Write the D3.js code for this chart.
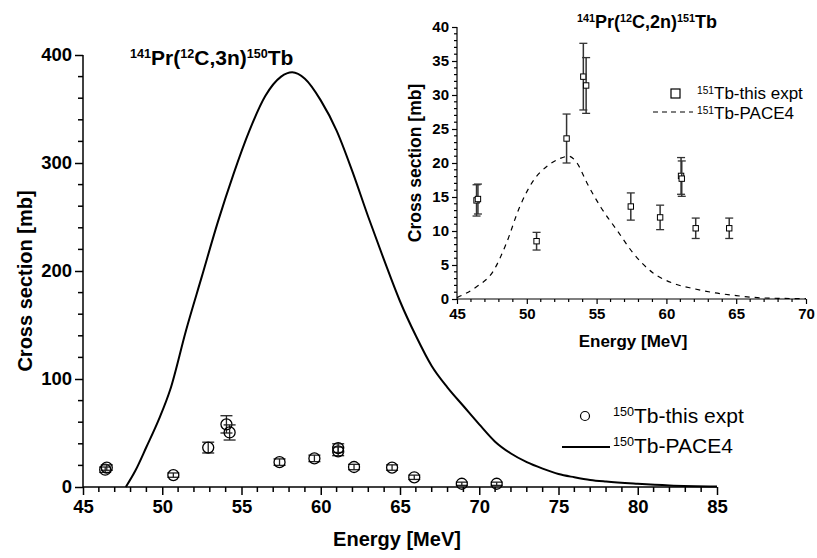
<!DOCTYPE html>
<html><head><meta charset="utf-8">
<script src="https://cdn.jsdelivr.net/npm/d3@7"></script>
<style>body{margin:0;background:#fff}svg{display:block}text{font-family:"Liberation Sans",Arial,sans-serif;fill:#000}</style>
</head><body><svg id="c" width="817" height="558"></svg>
<script>
// ---- Main chart data: 141Pr(12C,3n)150Tb ----
const mainExpE   = [46.4, 46.5, 50.7, 52.9, 54.05, 54.25, 57.4, 59.6, 61.1, 61.1, 62.1, 64.5, 65.9, 68.9, 71.1];
const mainExpV   = [16, 18, 11, 36.5, 58, 50.5, 23, 26.5, 33, 36, 18.5, 18, 9, 3, 3];
const mainExpErr = [2.5, 2.5, 2, 5, 8, 7, 3, 3, 4, 4, 2.5, 2.5, 2, 1.5, 1.5];
const mainPaceE  = [47.7, 48.3, 49.0, 49.8, 50.5, 51.5, 52.5, 53.5, 54.5, 55.5, 56.5, 57.5, 58.2, 59, 60, 61, 62, 63, 64, 65, 66, 67, 68, 69, 70, 71, 72, 73, 74, 75, 76, 77, 78, 80, 82, 85];
const mainPaceV  = [0, 15, 37, 63, 90, 145, 195, 245, 290, 330, 362, 380, 384, 378, 358, 330, 292, 250, 210, 172, 140, 112, 92, 75, 58, 42, 31, 23, 17, 12, 9, 6.5, 5, 3, 1.5, 0.5];
const mainXTicks = [45, 50, 55, 60, 65, 70, 75, 80, 85];
const mainYTicks = [0, 100, 200, 300, 400];

// ---- Inset data: 141Pr(12C,2n)151Tb ----
const insExpE   = [46.4, 46.5, 50.7, 52.85, 54.05, 54.25, 57.45, 59.55, 61.05, 61.1, 62.1, 64.5];
const insExpV   = [14.5, 14.7, 8.5, 23.6, 32.7, 31.4, 13.6, 12.0, 18.1, 17.7, 10.4, 10.4];
const insExpErr = [2.3, 2.2, 1.3, 3.6, 4.9, 4.1, 2.0, 1.8, 2.7, 2.6, 1.5, 1.5];
const insPaceE  = [45, 46.4, 47.6, 48.5, 49.5, 50.5, 51.5, 52.3, 53, 53.6, 54.3, 55.3, 56.5, 57.6, 59, 60.5, 62, 63.5, 65, 66.5, 68, 70];
const insPaceV  = [0.2, 1.8, 4.1, 8, 13.6, 17.5, 19.6, 20.6, 21, 20, 17.1, 13.5, 10.0, 6.8, 3.9, 2.3, 1.5, 0.9, 0.5, 0.2, 0.1, 0.05];
const insXTicks = [45, 50, 55, 60, 65, 70];
const insYTicks = [0, 5, 10, 15, 20, 25, 30, 35, 40];

const svg = d3.select("#c");

function richText(g, x, y, parts, size, weight, anchor) {
  const t = g.append("text").attr("x", x).attr("y", y)
    .attr("font-size", size).attr("font-weight", weight).attr("text-anchor", anchor || "start");
  parts.forEach(p => {
    const s = t.append("tspan").text(p[0]);
    if (p[1]) s.attr("font-size", size * 0.6).attr("baseline-shift", "super");
  });
  return t;
}

function drawAxes(g, x, y, xTicks, yTicks, xMinor, yMinor, opt) {
  const [x0, x1] = x.range(), [y0, y1] = y.range();
  g.append("g").selectAll("line").data(xMinor).join("line")
    .attr("x1", d => x(d)).attr("x2", d => x(d)).attr("y1", y0).attr("y2", y0 + opt.minor)
    .attr("stroke", "#000").attr("stroke-width", opt.sw);
  g.append("g").selectAll("line").data(yMinor).join("line")
    .attr("y1", d => y(d)).attr("y2", d => y(d)).attr("x1", x0).attr("x2", x0 - opt.minor)
    .attr("stroke", "#000").attr("stroke-width", opt.sw);
  const xa = d3.axisBottom(x).tickValues(xTicks).tickSize(opt.major).tickPadding(opt.padX).tickFormat(d3.format("d"));
  const ya = d3.axisLeft(y).tickValues(yTicks).tickSize(opt.major).tickPadding(opt.padY).tickFormat(d3.format("d"));
  const gx = g.append("g").attr("transform", `translate(0,${y0})`).call(xa);
  const gy = g.append("g").attr("transform", `translate(${x0},0)`).call(ya);
  [gx, gy].forEach(a => {
    a.select(".domain").remove();
    a.selectAll(".tick line").attr("stroke", "#000").attr("stroke-width", opt.sw);
    a.selectAll(".tick text").attr("font-size", opt.fs).attr("font-weight", "bold")
      .attr("font-family", "Liberation Sans, Arial, sans-serif").attr("fill", "#000");
  });
  g.append("line").attr("x1", x0).attr("x2", x1).attr("y1", y0).attr("y2", y0).attr("stroke", "#000").attr("stroke-width", opt.sw);
  g.append("line").attr("x1", x0).attr("x2", x0).attr("y1", y0).attr("y2", y1).attr("stroke", "#000").attr("stroke-width", opt.sw);
}

// ================= MAIN =================
const gm = svg.append("g");
const xM = d3.scaleLinear().domain([45, 85]).range([83, 717]);
const yM = d3.scaleLinear().domain([0, 400]).range([487, 55]);
drawAxes(gm, xM, yM, mainXTicks, mainYTicks,
  d3.range(45, 85.01, 1).filter(v => v % 5 !== 0),
  d3.range(0, 400.1, 20).filter(v => v % 100 !== 0),
  {major: 8, minor: 5, sw: 1.5, fs: 18.5, padX: 5, padY: 3});

const mainPace = mainPaceE.map((e, i) => [e, mainPaceV[i]]);
gm.append("path").datum(mainPace)
  .attr("d", d3.line().x(d => xM(d[0])).y(d => yM(d[1])).curve(d3.curveMonotoneX))
  .attr("fill", "none").attr("stroke", "#000").attr("stroke-width", 2);

const mainExp = mainExpE.map((e, i) => ({e, v: mainExpV[i], err: mainExpErr[i]}));
const me = gm.append("g").selectAll("g").data(mainExp).join("g");
me.append("line").attr("x1", d => xM(d.e)).attr("x2", d => xM(d.e))
  .attr("y1", d => yM(d.v - d.err)).attr("y2", d => yM(d.v + d.err)).attr("stroke", "#222").attr("stroke-width", 1.3);
me.append("line").attr("x1", d => xM(d.e) - 6).attr("x2", d => xM(d.e) + 6)
  .attr("y1", d => yM(d.v - d.err)).attr("y2", d => yM(d.v - d.err)).attr("stroke", "#222").attr("stroke-width", 1.3);
me.append("line").attr("x1", d => xM(d.e) - 6).attr("x2", d => xM(d.e) + 6)
  .attr("y1", d => yM(d.v + d.err)).attr("y2", d => yM(d.v + d.err)).attr("stroke", "#222").attr("stroke-width", 1.3);
me.append("circle").attr("cx", d => xM(d.e)).attr("cy", d => yM(d.v)).attr("r", 5.5)
  .attr("fill", "none").attr("stroke", "#000").attr("stroke-width", 1.3);

richText(gm, 130, 65, [["141", 1], ["Pr(", 0], ["12", 1], ["C,3n)", 0], ["150", 1], ["Tb", 0]], 21, "bold");
gm.append("text").attr("transform", "translate(32,281) rotate(-90)").attr("text-anchor", "middle")
  .attr("font-size", 20).attr("font-weight", "bold").text("Cross section [mb]");
gm.append("text").attr("x", 397).attr("y", 546).attr("text-anchor", "middle")
  .attr("font-size", 20).attr("font-weight", "bold").text("Energy [MeV]");

gm.append("circle").attr("cx", 585).attr("cy", 416).attr("r", 4.5).attr("fill", "none").attr("stroke", "#000").attr("stroke-width", 1.2);
richText(gm, 613, 423, [["150", 1], ["Tb-this expt", 0]], 21, "normal");
gm.append("line").attr("x1", 562).attr("x2", 610).attr("y1", 447).attr("y2", 447).attr("stroke", "#000").attr("stroke-width", 2);
richText(gm, 613, 453, [["150", 1], ["Tb-PACE4", 0]], 21, "normal");

// ================= INSET =================
const gi = svg.append("g");
const xI = d3.scaleLinear().domain([45, 70]).range([457, 806]);
const yI = d3.scaleLinear().domain([0, 40]).range([299, 27]);
drawAxes(gi, xI, yI, insXTicks, insYTicks,
  d3.range(45, 70.01, 1).filter(v => v % 5 !== 0),
  d3.range(0, 40.01, 1).filter(v => v % 5 !== 0),
  {major: 5, minor: 3, sw: 1.2, fs: 15, padX: 4, padY: 3});

const insPace = insPaceE.map((e, i) => [e, insPaceV[i]]);
gi.append("path").datum(insPace)
  .attr("d", d3.line().x(d => xI(d[0])).y(d => yI(d[1])).curve(d3.curveMonotoneX))
  .attr("fill", "none").attr("stroke", "#000").attr("stroke-width", 1.2).attr("stroke-dasharray", "5,5");

const insExp = insExpE.map((e, i) => ({e, v: insExpV[i], err: insExpErr[i]}));
const ie = gi.append("g").selectAll("g").data(insExp).join("g");
ie.append("line").attr("x1", d => xI(d.e)).attr("x2", d => xI(d.e))
  .attr("y1", d => yI(d.v - d.err)).attr("y2", d => yI(d.v + d.err)).attr("stroke", "#333").attr("stroke-width", 1.5);
ie.append("line").attr("x1", d => xI(d.e) - 4).attr("x2", d => xI(d.e) + 4)
  .attr("y1", d => yI(d.v - d.err)).attr("y2", d => yI(d.v - d.err)).attr("stroke", "#333").attr("stroke-width", 1.3);
ie.append("line").attr("x1", d => xI(d.e) - 4).attr("x2", d => xI(d.e) + 4)
  .attr("y1", d => yI(d.v + d.err)).attr("y2", d => yI(d.v + d.err)).attr("stroke", "#333").attr("stroke-width", 1.3);
ie.append("rect").attr("x", d => xI(d.e) - 2.7).attr("y", d => yI(d.v) - 2.7).attr("width", 5.4).attr("height", 5.4)
  .attr("fill", "#fff").attr("stroke", "#000").attr("stroke-width", 1);

richText(gi, 577, 28, [["141", 1], ["Pr(", 0], ["12", 1], ["C,2n)", 0], ["151", 1], ["Tb", 0]], 18, "bold");
gi.append("text").attr("transform", "translate(421,163) rotate(-90)").attr("text-anchor", "middle")
  .attr("font-size", 17.5).attr("font-weight", "bold").text("Cross section [mb]");
gi.append("text").attr("x", 633).attr("y", 347).attr("text-anchor", "middle")
  .attr("font-size", 17).attr("font-weight", "bold").text("Energy [MeV]");

gi.append("rect").attr("x", 671).attr("y", 89).attr("width", 9).attr("height", 9).attr("fill", "#fff").attr("stroke", "#000").attr("stroke-width", 1.2);
richText(gi, 697, 99, [["151", 1], ["Tb-this expt", 0]], 17, "normal");
gi.append("line").attr("x1", 653).attr("x2", 693).attr("y1", 112).attr("y2", 112).attr("stroke", "#000").attr("stroke-width", 1.2).attr("stroke-dasharray", "5,4");
richText(gi, 697, 119, [["151", 1], ["Tb-PACE4", 0]], 17, "normal");
</script></body></html>
